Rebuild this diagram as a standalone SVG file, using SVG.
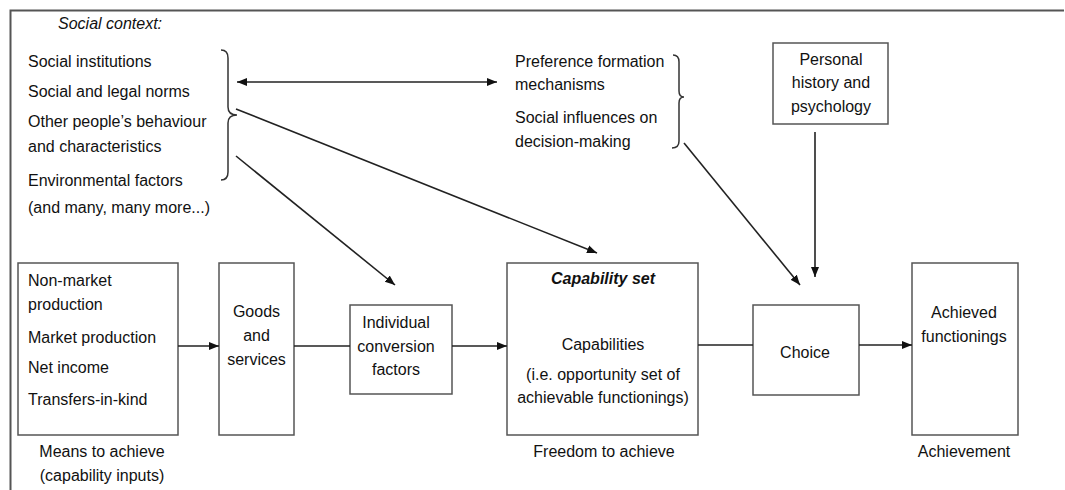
<svg xmlns="http://www.w3.org/2000/svg" width="1065" height="490" viewBox="0 0 1065 490">
<style>
text{font-family:"Liberation Sans",Arial,sans-serif;font-size:16px;fill:#111}
.c{text-anchor:middle}
.box{fill:#fff;stroke:#555;stroke-width:1.5}
.ln{fill:none;stroke:#222;stroke-width:1.6}
.br{fill:none;stroke:#333;stroke-width:1.5}
</style>
<defs>
<marker id="ah" viewBox="0 0 10 10" refX="10" refY="5" markerWidth="10" markerHeight="10" markerUnits="userSpaceOnUse" orient="auto-start-reverse">
<path d="M0,1 L10,5 L0,9 Z" fill="#111"/>
</marker>
</defs>
<rect width="1065" height="490" fill="#fff"/>
<path d="M10.5,490 V10.5 H1064" fill="none" stroke="#555" stroke-width="2"/>

<g id="social-context">
<text x="58" y="29" font-style="italic">Social context:</text>
<text x="28" y="67">Social institutions</text>
<text x="28" y="97">Social and legal norms</text>
<text x="28" y="127">Other people’s behaviour</text>
<text x="28" y="152">and characteristics</text>
<text x="28" y="186">Environmental factors</text>
<text x="28" y="213">(and many, many more...)</text>
<path class="br" d="M221,50 Q228,50 228,58 V107 Q228,115 237,115 Q228,115 228,123 V172 Q228,180 221,180"/>
</g>

<g id="preference">
<text x="515" y="67">Preference formation</text>
<text x="515" y="90">mechanisms</text>
<text x="515" y="123">Social influences on</text>
<text x="515" y="147">decision-making</text>
<path class="br" d="M673,55 Q679,55 679,62 V91 Q679,97 684,97 Q679,97 679,103 V141 Q679,148 672,148"/>
</g>

<g id="personal">
<rect class="box" x="773" y="43" width="115" height="81"/>
<text class="c" x="831" y="65">Personal</text>
<text class="c" x="831" y="88">history and</text>
<text class="c" x="831" y="112">psychology</text>
</g>

<g id="means">
<rect class="box" x="18" y="263" width="160" height="172"/>
<text x="28" y="286">Non-market</text>
<text x="28" y="310">production</text>
<text x="28" y="343">Market production</text>
<text x="28" y="373">Net income</text>
<text x="28" y="405">Transfers-in-kind</text>
<text class="c" x="102" y="457">Means to achieve</text>
<text class="c" x="102" y="481">(capability inputs)</text>
</g>

<g id="goods">
<rect class="box" x="219" y="263" width="75" height="172"/>
<text class="c" x="256.5" y="317">Goods</text>
<text class="c" x="256.5" y="341">and</text>
<text class="c" x="256.5" y="365">services</text>
</g>

<g id="conversion">
<rect class="box" x="350" y="305" width="102" height="89"/>
<text class="c" x="396" y="328">Individual</text>
<text class="c" x="396" y="352">conversion</text>
<text class="c" x="396" y="375">factors</text>
</g>

<g id="capability">
<rect class="box" x="507" y="263" width="191" height="172"/>
<text class="c" x="603" y="284" font-weight="bold" font-style="italic">Capability set</text>
<text class="c" x="603" y="350">Capabilities</text>
<text class="c" x="603" y="380">(i.e. opportunity set of</text>
<text class="c" x="603" y="403">achievable functionings)</text>
<text class="c" x="604" y="457">Freedom to achieve</text>
</g>

<g id="choice">
<rect class="box" x="753" y="305" width="106" height="90"/>
<text class="c" x="805" y="358">Choice</text>
</g>

<g id="achieved">
<rect class="box" x="912" y="263" width="106" height="172"/>
<text class="c" x="964" y="318">Achieved</text>
<text class="c" x="964" y="342">functionings</text>
<text class="c" x="964" y="457">Achievement</text>
</g>

<g id="connectors">
<line class="ln" x1="178" y1="346" x2="219" y2="346" marker-end="url(#ah)"/>
<line class="ln" x1="294" y1="346" x2="350" y2="346"/>
<line class="ln" x1="452" y1="346" x2="507" y2="346" marker-end="url(#ah)"/>
<line class="ln" x1="698" y1="345" x2="753" y2="345"/>
<line class="ln" x1="859" y1="345" x2="912" y2="345" marker-end="url(#ah)"/>
<line class="ln" x1="237" y1="82" x2="497" y2="82" marker-start="url(#ah)" marker-end="url(#ah)"/>
<line class="ln" x1="236" y1="109" x2="597" y2="253" marker-end="url(#ah)"/>
<line class="ln" x1="236" y1="156" x2="395" y2="285" marker-end="url(#ah)"/>
<line class="ln" x1="684" y1="143" x2="800" y2="285" marker-end="url(#ah)"/>
<line class="ln" x1="815" y1="132" x2="815" y2="277" marker-end="url(#ah)"/>
</g>
</svg>
